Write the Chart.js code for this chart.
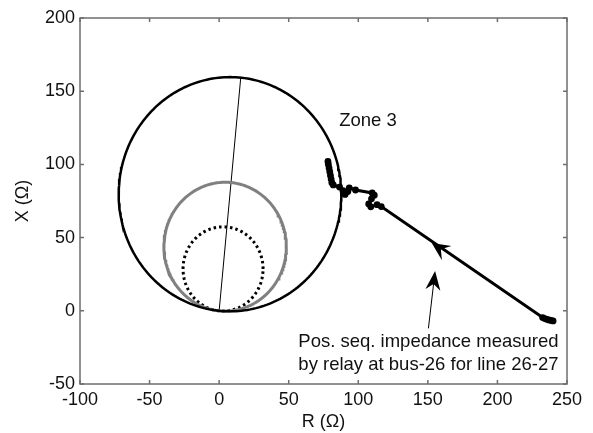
<!DOCTYPE html>
<html><head><meta charset="utf-8">
<script src="https://cdn.jsdelivr.net/npm/chart.js@4.4.0/dist/chart.umd.min.js"></script>
<style>html,body{margin:0;padding:0;background:#fff;}</style>
</head><body>
<canvas id="c" width="593" height="433"></canvas>
<script>
// ---- axis ticks ----
const xTicks = [-100, -50, 0, 50, 100, 150, 200, 250];
const yTicks = [-50, 0, 50, 100, 150, 200];

// ---- mho zone characteristics (reach = circle diameter along line angle) ----
const zoneNames = ['Zone 1', 'Zone 2', 'Zone 3'];
const zoneReach = [57.5, 88, 160];
const lineAngleDeg = 84.4;

// ---- line impedance (angle) line ----
const angleLineR = [0, 15.5];
const angleLineX = [0, 159];

// ---- positive-sequence impedance trajectory seen by relay (chronological) ----
const trajR = [240, 238.5, 237, 235.5, 234, 232.5, 116.5, 113.5, 109, 107.5, 109.5, 111.5, 110, 98, 93.5, 92.5, 90.5, 89, 86.5, 82, 81, 80.5, 80, 79.5, 79, 78.5, 78.2];
const trajX = [-6.9, -6.6, -6.2, -5.8, -5.3, -4.6, 71.2, 72.5, 71, 73, 76.5, 79, 80.5, 82.5, 84, 81.5, 79.5, 82, 84.5, 86, 87.5, 90, 92.5, 95, 97.5, 100, 102];

// ---- annotations ----
const zoneLabel = 'Zone 3';
const zoneLabelAt = [86.3, 126.2];
const motionArrowTail = [231, -4];
const motionArrowTip = [152.8, 46.3];
const noteLines = ['Pos. seq. impedance measured', 'by relay at bus-26 for line 26-27'];
const noteRightR = 243.9;
const noteBaselineX = [-24.5, -40.4];
const noteArrowTail = [150.4, -12.0];
const noteArrowTip = [155.2, 27.2];

function circlePoints(reach) {
  const a = lineAngleDeg * Math.PI / 180;
  const cx = reach / 2 * Math.cos(a), cy = reach / 2 * Math.sin(a), r = reach / 2;
  const pts = [];
  for (let i = 0; i <= 240; i++) {
    const t = i / 240 * 2 * Math.PI;
    pts.push({x: cx + r * Math.cos(t), y: cy + r * Math.sin(t)});
  }
  return pts;
}
const zip = (a, b) => a.map((v, i) => ({x: v, y: b[i]}));

const FONT = '"Liberation Sans", Arial, Helvetica, sans-serif';
Chart.defaults.font.family = FONT;
Chart.defaults.font.size = 18;
Chart.defaults.color = '#111';

function arrowHead(ctx, tx, ty, ux, uy, len, half, notch) {
  const px = -uy, py = ux;
  ctx.beginPath();
  ctx.moveTo(tx, ty);
  ctx.lineTo(tx - ux * len + px * half, ty - uy * len + py * half);
  ctx.lineTo(tx - ux * notch, ty - uy * notch);
  ctx.lineTo(tx - ux * len - px * half, ty - uy * len - py * half);
  ctx.closePath();
  ctx.fill();
}

const annot = {
  id: 'annot',
  afterDatasetsDraw(chart) {
    const {ctx, chartArea: a, scales: {x, y}} = chart;
    ctx.save();
    // frame + inward ticks
    ctx.strokeStyle = '#6e6e6e';
    ctx.lineWidth = 1.5;
    ctx.strokeRect(a.left, a.top, a.right - a.left, a.bottom - a.top);
    ctx.beginPath();
    x.ticks.forEach(t => {
      const p = x.getPixelForValue(t.value);
      ctx.moveTo(p, a.bottom); ctx.lineTo(p, a.bottom - 4);
      ctx.moveTo(p, a.top); ctx.lineTo(p, a.top + 4);
    });
    y.ticks.forEach(t => {
      const p = y.getPixelForValue(t.value);
      ctx.moveTo(a.left, p); ctx.lineTo(a.left + 4, p);
      ctx.moveTo(a.right, p); ctx.lineTo(a.right - 4, p);
    });
    ctx.stroke();

    // motion arrow head on trajectory
    ctx.fillStyle = '#000';
    let bx = x.getPixelForValue(motionArrowTail[0]), by = y.getPixelForValue(motionArrowTail[1]);
    let tx = x.getPixelForValue(motionArrowTip[0]), ty = y.getPixelForValue(motionArrowTip[1]);
    let d = Math.hypot(tx - bx, ty - by);
    arrowHead(ctx, tx, ty, (tx - bx) / d, (ty - by) / d, 18, 8.5, 11);

    // note arrow
    bx = x.getPixelForValue(noteArrowTail[0]); by = y.getPixelForValue(noteArrowTail[1]);
    tx = x.getPixelForValue(noteArrowTip[0]); ty = y.getPixelForValue(noteArrowTip[1]);
    d = Math.hypot(tx - bx, ty - by);
    const ux = (tx - bx) / d, uy = (ty - by) / d;
    ctx.strokeStyle = '#000';
    ctx.lineWidth = 1;
    ctx.beginPath();
    ctx.moveTo(bx, by);
    ctx.lineTo(tx - ux * 10, ty - uy * 10);
    ctx.stroke();
    arrowHead(ctx, tx, ty, ux, uy, 19, 7.5, 13);

    // texts
    ctx.fillStyle = '#111';
    ctx.font = '18.5px ' + FONT;
    ctx.textBaseline = 'alphabetic';
    ctx.textAlign = 'left';
    ctx.fillText(zoneLabel, x.getPixelForValue(zoneLabelAt[0]), y.getPixelForValue(zoneLabelAt[1]));
    ctx.textAlign = 'right';
    noteLines.forEach((s, i) => {
      ctx.fillText(s, x.getPixelForValue(noteRightR), y.getPixelForValue(noteBaselineX[i]));
    });
    ctx.restore();
  }
};

const datasets = [
  {label: zoneNames[2], data: circlePoints(zoneReach[2]), borderColor: '#000', borderWidth: 2.5},
  {label: zoneNames[1], data: circlePoints(zoneReach[1]), borderColor: '#808080', borderWidth: 3},
  {label: zoneNames[0], data: circlePoints(zoneReach[0]), borderColor: '#000', borderWidth: 3, borderDash: [2.5, 3]},
  {label: 'Line angle', data: zip(angleLineR, angleLineX), borderColor: '#000', borderWidth: 1},
  {label: 'Impedance', data: zip(trajR, trajX), borderColor: '#000', borderWidth: 3,
   pointRadius: 3.4, pointBackgroundColor: '#000', pointBorderWidth: 0}
].map(ds => Object.assign({showLine: true, fill: false, tension: 0, pointRadius: 0}, ds));

new Chart(document.getElementById('c'), {
  type: 'scatter',
  data: {datasets},
  options: {
    responsive: false,
    animation: false,
    layout: {padding: {top: 18, right: 26, bottom: 0, left: 0}},
    plugins: {legend: {display: false}, tooltip: {enabled: false}},
    scales: {
      x: {
        type: 'linear', min: -100, max: 250,
        afterBuildTicks: s => { s.ticks = xTicks.map(v => ({value: v})); },
        afterFit: s => { s.height = 49; },
        grid: {display: false, drawTicks: false},
        border: {display: false},
        ticks: {padding: 5, color: '#111', font: {size: 18}},
        title: {display: true, text: 'R (\u03A9)', color: '#111', font: {size: 18}, padding: {top: 0, bottom: 0}}
      },
      y: {
        type: 'linear', min: -50, max: 200,
        afterBuildTicks: s => { s.ticks = yTicks.map(v => ({value: v})); },
        afterFit: s => { s.width = 80; },
        grid: {display: false, drawTicks: false},
        border: {display: false},
        ticks: {padding: 5, color: '#111', font: {size: 18}},
        title: {display: true, text: 'X (\u03A9)', color: '#111', font: {size: 18}, padding: {top: 12, bottom: 0}}
      }
    }
  },
  plugins: [annot]
});
</script>
</body></html>
